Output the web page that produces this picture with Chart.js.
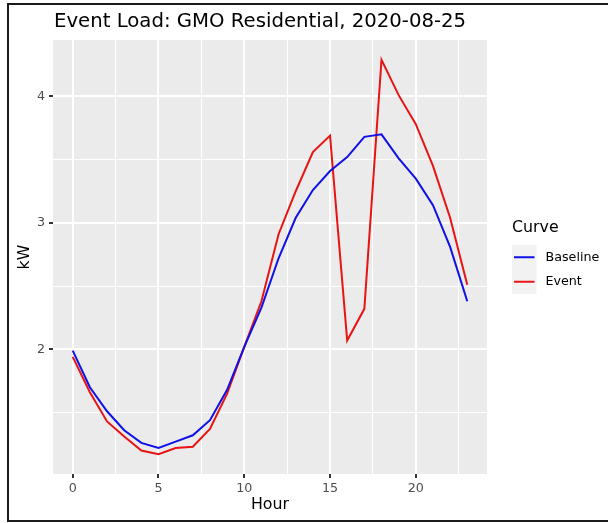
<!DOCTYPE html>
<html>
<head>
<meta charset="utf-8">
<script src="https://cdn.jsdelivr.net/npm/chart.js@4.4.1/dist/chart.umd.min.js"></script>
<style>
  html, body { margin: 0; padding: 0; background: #ffffff; overflow: hidden; }
  #wrap { position: relative; width: 608px; height: 523px; overflow: hidden; }
  #c { position: absolute; left: 0; top: 0; }
  .edge { position: absolute; background: #1b1b1b; pointer-events: none; }
  #edgeLeft { left: 7px; top: 3px; width: 2px; height: 519px; }
  #edgeTop { left: 7px; top: 3px; width: 601px; height: 2px; }
  #edgeBottom { left: 7px; top: 520px; width: 601px; height: 2px; }
</style>
</head>
<body>
<div id="wrap">
  <canvas id="c" width="608" height="523"></canvas>
  <div class="edge" id="edgeLeft"></div>
  <div class="edge" id="edgeTop"></div>
  <div class="edge" id="edgeBottom"></div>
</div>
<script>
// Hourly load profile, kW
const hours = [0, 1, 2, 3, 4, 5, 6, 7, 8, 9, 10, 11, 12, 13, 14, 15, 16, 17, 18, 19, 20, 21, 22, 23];
const baseline = [1.99, 1.70, 1.51, 1.36, 1.26, 1.22, 1.27, 1.32, 1.44, 1.68, 2.02, 2.33,
                  2.72, 3.04, 3.26, 3.41, 3.52, 3.68, 3.70, 3.51, 3.35, 3.14, 2.81, 2.38];
const eventLoad = [1.94, 1.66, 1.43, 1.31, 1.20, 1.17, 1.22, 1.23, 1.37, 1.65, 2.02, 2.38,
                   2.91, 3.25, 3.56, 3.69, 2.07, 2.32, 4.29, 4.01, 3.78, 3.45, 3.04, 2.51];
const seriesNames = ['Baseline', 'Event'];
const seriesColors = ['#1010e8', '#e81414'];
const xMajorTicks = [0, 5, 10, 15, 20];
const yMajorTicks = [2, 3, 4];
const chartTitle = 'Event Load: GMO Residential, 2020-08-25';
const xTitle = 'Hour';
const yTitle = 'kW';
const legendTitle = 'Curve';

const FONT = '"DejaVu Sans", "Noto Sans", sans-serif';
const PANEL_BG = '#EBEBEB';

// continuous-scale limits with 5% padding on each side
function expand(vals) {
  const lo = Math.min(...vals), hi = Math.max(...vals);
  const pad = (hi - lo) * 0.05;
  return [lo - pad, hi + pad];
}
const [xMin, xMax] = expand(hours);
const [yMin, yMax] = expand(baseline.concat(eventLoad));

// majors plus the midpoints between them (minor grid), kept inside the limits
function withMinors(majors, lo, hi) {
  const step = majors[1] - majors[0];
  const all = [];
  for (let v = majors[0] - step; v <= majors[majors.length - 1] + step + 1e-9; v += step / 2) {
    if (v >= lo && v <= hi) all.push(Math.round(v * 1000) / 1000);
  }
  return all;
}
const isMajor = (list, v) => list.some(m => Math.abs(m - v) < 1e-6);

const panelBackground = {
  id: 'panelBackground',
  beforeDraw(chart) {
    const { ctx, chartArea: a } = chart;
    ctx.save();
    ctx.fillStyle = PANEL_BG;
    ctx.fillRect(a.left, a.top, a.right - a.left, a.bottom - a.top);
    ctx.restore();
  }
};

const annotations = {
  id: 'annotations',
  afterDraw(chart) {
    const { ctx, chartArea: a } = chart;
    ctx.save();
    // plot title
    ctx.fillStyle = '#000000';
    ctx.font = '19.7px ' + FONT;
    ctx.textAlign = 'left';
    ctx.textBaseline = 'alphabetic';
    ctx.fillText(chartTitle, a.left + 1, 27);

    // axis titles
    ctx.font = '15.8px ' + FONT;
    ctx.textAlign = 'center';
    ctx.textBaseline = 'middle';
    ctx.fillText(xTitle, (a.left + a.right) / 2, 505);
    ctx.save();
    ctx.translate(25, (a.top + a.bottom) / 2);
    ctx.rotate(-Math.PI / 2);
    ctx.fillText(yTitle, 0, 0);
    ctx.restore();

    // legend
    const lx = 512;
    ctx.textAlign = 'left';
    ctx.font = '15.8px ' + FONT;
    ctx.fillText(legendTitle, lx, 228);
    const keyW = 24.5, keyH = 24.5, keyTop = 245;
    seriesNames.forEach((name, i) => {
      const top = keyTop + i * keyH;
      ctx.fillStyle = '#F2F2F2';
      ctx.fillRect(lx, top, keyW, keyH);
      ctx.strokeStyle = seriesColors[i];
      ctx.lineWidth = 2;
      ctx.beginPath();
      ctx.moveTo(lx + 2, top + keyH / 2);
      ctx.lineTo(lx + keyW - 2, top + keyH / 2);
      ctx.stroke();
      ctx.fillStyle = '#000000';
      ctx.font = '12.7px ' + FONT;
      ctx.textBaseline = 'middle';
      ctx.fillText(name, lx + keyW + 9, top + keyH / 2);
    });
    ctx.restore();
  }
};

const toPoints = vals => hours.map((h, i) => ({ x: h, y: vals[i] }));

new Chart(document.getElementById('c'), {
  type: 'line',
  data: {
    datasets: [
      { label: seriesNames[0], data: toPoints(baseline), borderColor: seriesColors[0],
        borderWidth: 2, pointRadius: 0, tension: 0, fill: false },
      { label: seriesNames[1], data: toPoints(eventLoad), borderColor: seriesColors[1],
        borderWidth: 2, pointRadius: 0, tension: 0, fill: false }
    ]
  },
  options: {
    responsive: false,
    devicePixelRatio: 1,
    animation: false,
    layout: { padding: { left: 0, right: 121, top: 40, bottom: 0 } },
    plugins: { legend: { display: false }, title: { display: false }, tooltip: { enabled: false } },
    scales: {
      x: {
        type: 'linear',
        min: xMin, max: xMax,
        afterBuildTicks: s => { s.ticks = withMinors(xMajorTicks, xMin, xMax).map(v => ({ value: v })); },
        afterFit: s => { s.height = 49; },
        border: { display: false },
        grid: {
          color: '#ffffff',
          lineWidth: c => isMajor(xMajorTicks, c.tick.value) ? 2 : 1,
          drawTicks: true,
          tickLength: 4,
          tickWidth: 2,
          tickColor: c => isMajor(xMajorTicks, c.tick.value) ? '#333333' : 'rgba(0,0,0,0)'
        },
        ticks: {
          autoSkip: false,
          maxRotation: 0,
          padding: 3,
          color: '#4D4D4D',
          font: { family: FONT, size: 12.7 },
          callback: v => isMajor(xMajorTicks, v) ? String(v) : ''
        }
      },
      y: {
        type: 'linear',
        min: yMin, max: yMax,
        afterBuildTicks: s => { s.ticks = withMinors(yMajorTicks, yMin, yMax).map(v => ({ value: v })); },
        afterFit: s => { s.width = 53; },
        border: { display: false },
        grid: {
          color: '#ffffff',
          lineWidth: c => isMajor(yMajorTicks, c.tick.value) ? 2 : 1,
          drawTicks: true,
          tickLength: 4,
          tickWidth: 2,
          tickColor: c => isMajor(yMajorTicks, c.tick.value) ? '#333333' : 'rgba(0,0,0,0)'
        },
        ticks: {
          autoSkip: false,
          padding: 4,
          color: '#4D4D4D',
          font: { family: FONT, size: 12.7 },
          callback: v => isMajor(yMajorTicks, v) ? String(v) : ''
        }
      }
    }
  },
  plugins: [panelBackground, annotations]
});
</script>
</body>
</html>
